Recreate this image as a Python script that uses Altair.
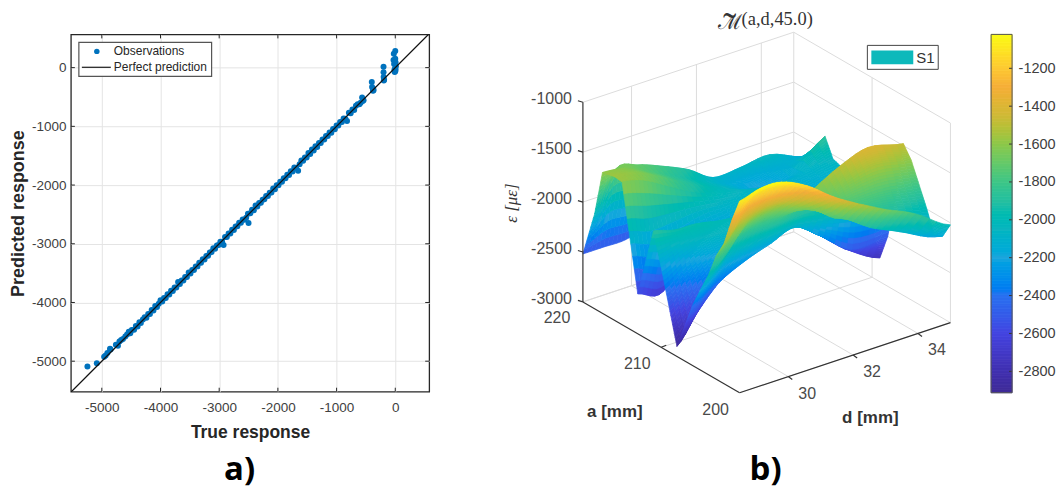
import altair as alt
import numpy as np
import pandas as pd

# ---------- panel a) values ----------
true_vals = [-5245,-5085,-4960,-4935,-4905,-4860,-4850,-4760,-4725,-4700,-4670,-4640,-4600,-4570,-4540,-4515,-4490,-4450,-4420,-4390,
 -4360,-4335,-4300,-4270,-4240,-4210,-4180,-4150,-4120,-4090,-4060,-4030,-4000,-3970,-3940,-3910,-3880,-3850,-3820,-3790,
 -3760,-3730,-3700,-3670,-3640,-3610,-3580,-3550,-3520,-3490,-3460,-3430,-3400,-3370,-3340,-3310,-3280,-3250,-3220,-3190,
 -3160,-3130,-3100,-3070,-3040,-3010,-2980,-2950,-2925,-2900,-2870,-2840,-2810,-2780,-2750,-2720,-2690,-2660,-2630,-2600,
 -2570,-2540,-2510,-2500,-2470,-2440,-2410,-2380,-2350,-2320,-2290,-2260,-2230,-2200,-2170,-2140,-2110,-2080,-2050,-2020,
 -1990,-1960,-1930,-1900,-1870,-1840,-1810,-1780,-1750,-1720,-1690,-1655,-1630,-1600,-1570,-1540,-1510,-1480,-1450,-1420,
 -1390,-1360,-1330,-1300,-1270,-1240,-1210,-1180,-1150,-1120,-1090,-1060,-1030,-1000,-970,-940,-910,-880,-850,-822,
 -790,-760,-730,-700,-670,-640,-610,-590,-565,-555,-540,-400,-395,-380,-375,-370,-200,-200,-198,-195,-190,-30,-25,-20,-15,-10,-5,0,0,0,5,5,10]
pred_vals = [-5090,-5033,-4925,-4905,-4860,-4790,-4800,-4720,-4735,-4665,-4640,-4620,-4580,-4545,-4500,-4525,-4470,-4465,-4400,-4410,
 -4335,-4350,-4290,-4250,-4260,-4195,-4195,-4130,-4135,-4060,-4075,-4020,-3960,-3985,-3925,-3925,-3860,-3865,-3800,-3805,
 -3745,-3745,-3650,-3685,-3625,-3625,-3565,-3565,-3490,-3505,-3445,-3445,-3385,-3385,-3325,-3325,-3265,-3270,-3210,-3205,
 -3150,-3140,-3075,-3085,-3030,-3020,-2965,-2965,-3020,-2885,-2885,-2825,-2825,-2760,-2765,-2705,-2700,-2640,-2640,-2585,
 -2590,-2555,-2490,-2648,-2480,-2420,-2430,-2350,-2365,-2305,-2300,-2250,-2240,-2185,-2185,-2130,-2125,-2060,-2070,-2005,
 -2005,-1945,-1945,-1885,-1885,-1825,-1830,-1765,-1770,-1700,-1710,-1758,-1645,-1580,-1585,-1530,-1530,-1455,-1470,-1395,
 -1410,-1340,-1350,-1285,-1285,-1225,-1225,-1165,-1165,-1105,-1110,-1045,-1050,-985,-985,-925,-925,-865,-870,-908,
 -770,-775,-715,-720,-650,-625,-625,-600,-510,-570,-555,-245,-330,-395,-360,-385,17,-80,-160,-220,-205,130,235,60,-40,-75,-20,282,150,-60,90,-30,25]

x_ticks = [-5000,-4000,-3000,-2000,-1000,0]
y_ticks = [-5000,-4000,-3000,-2000,-1000,0]
x_domain = [-5527,578]
y_domain = [-5520,566]
diag = [-5600,700]

# ---------- panel b) values ----------
a_vals = [200,201,202,203,204,205,206,207,208,209,210,211,213,215,216,217.5,218.5,220]
d_vals = [28.5,29.15,29.8,30.6,31.4,32.15,33.0,33.9,35.0]
z_rows = [
 [-1080,-1020,-1030,-1155,-1350,-1500,-1650,-1790,-2020],
 [-1320,-1150,-1120,-1220,-1420,-1600,-1780,-1930,-2180],
 [-1600,-1350,-1280,-1330,-1500,-1720,-1920,-2060,-2230],
 [-1770,-1550,-1420,-1430,-1580,-1780,-1850,-1900,-2000],
 [-2010,-1800,-1580,-1530,-1650,-1750,-1750,-1750,-1800],
 [-2200,-1980,-1730,-1650,-1720,-1720,-1600,-1530,-1600],
 [-2400,-2180,-1900,-1800,-1800,-1650,-1500,-1400,-1480],
 [-2650,-2400,-2150,-2030,-1980,-1950,-2000,-1950,-2050],
 [-2900,-2620,-2400,-2270,-2180,-2100,-2290,-2510,-2500],
 [-2550,-2350,-2200,-2150,-2130,-2120,-2300,-2550,-2760],
 [-2200,-2100,-2050,-2050,-2080,-2100,-2250,-2400,-2500],
 [-1880,-1940,-1950,-2000,-2020,-2050,-2200,-2300,-2300],
 [-2600,-2680,-2500,-2250,-2150,-2100,-2150,-2150,-2100],
 [-1570,-1630,-1750,-1900,-2000,-2050,-2100,-2100,-2040],
 [-1560,-1600,-1700,-1850,-1980,-2080,-2200,-2150,-1860],
 [-1590,-1620,-1720,-1850,-1980,-2100,-2180,-2120,-2100],
 [-2050,-1670,-1700,-1800,-1920,-2080,-2070,-2040,-2180],
 [-2520,-2520,-2520,-2450,-2400,-2350,-2300,-2300,-2350],
]
z_ticks = [-1000,-1500,-2000,-2500,-3000]
d_ticks = [30,32,34]
a_ticks = [200,210,220]
cbar_ticks = [-1200,-1400,-1600,-1800,-2000,-2200,-2400,-2600,-2800]
cbar_domain = [-2913,-1021]
cmap_pos = [-2913,-2800,-2600,-2400,-2200,-2050,-1900,-1750,-1600,-1450,-1300,-1200,-1021]
cmap_col = ["#3e2a95","#4030b0","#4343e0","#2a70f0","#1fa5de","#0db5c0","#25bfa0","#50c878","#8cc84a","#cfb936","#f5ae38","#fdc932","#f9fb15"]

FONT = "Liberation Sans"
TICK = "#404040"
OX, OY = 440.0, 35.0   # page origin of panel b)
HYPHEN = "replace(datum.label, '\u2212', '-')"


def proj(a, d, z):
    x = 739 + 32.5 * (d - 28.5) - 7.85 * (a - 200)
    y = 394 - 10.8 * (d - 28.5) - 4.55 * (a - 200) - 0.1 * (z + 3000)
    return [round(x - OX, 2), round(y - OY, 2)]


color_scale = alt.Scale(domain=cmap_pos, range=cmap_col, clamp=True)
geo = alt.Projection(type="identity", scale=1, translate=[0, 0])

# ---------- panel a) ----------
W, H = 359, 358
xs = alt.Scale(domain=x_domain, nice=False, zero=False)
ys = alt.Scale(domain=y_domain, nice=False, zero=False)
obs = pd.DataFrame({"t": true_vals, "p": pred_vals})
base_axis = dict(values=x_ticks, grid=True, gridColor="#e4e4e4", gridWidth=1, ticks=False, domain=False,
                 labelFont=FONT, labelFontSize=13.5, labelColor=TICK, labelExpr=HYPHEN,
                 titleFont=FONT, titleFontWeight="bold", titleColor="#262626", format="d")
grid = alt.Chart(pd.DataFrame({"t": x_ticks, "p": y_ticks})).mark_point(opacity=0).encode(
    x=alt.X("t:Q", scale=xs, axis=alt.Axis(title="True response", labelPadding=9, titlePadding=9, titleFontSize=17.5, **base_axis)),
    y=alt.Y("p:Q", scale=ys, axis=alt.Axis(title="Predicted response", labelPadding=5, titlePadding=4, titleFontSize=18, **base_axis)),
)
pts = alt.Chart(obs).mark_circle(size=36, color="#0072BD", opacity=1).encode(
    x=alt.X("t:Q", scale=xs), y=alt.Y("p:Q", scale=ys))
line = alt.Chart(pd.DataFrame({"t": diag, "p": diag})).mark_line(color="#111111", strokeWidth=1.3, clip=True).encode(
    x=alt.X("t:Q", scale=xs), y=alt.Y("p:Q", scale=ys))
tk = pd.DataFrame({"v": x_ticks})
tick_col = "#262626"
tx1 = alt.Chart(tk).mark_rule(color=tick_col).encode(x=alt.X("v:Q", scale=xs), y=alt.value(H), y2=alt.value(H - 4))
tx2 = alt.Chart(tk).mark_rule(color=tick_col).encode(x=alt.X("v:Q", scale=xs), y=alt.value(0), y2=alt.value(4))
ty1 = alt.Chart(tk).mark_rule(color=tick_col).encode(y=alt.Y("v:Q", scale=ys), x=alt.value(0), x2=alt.value(4))
ty2 = alt.Chart(tk).mark_rule(color=tick_col).encode(y=alt.Y("v:Q", scale=ys), x=alt.value(W), x2=alt.value(W - 4))
lg_box = alt.Chart(pd.DataFrame({"k": [0]})).mark_rect(fill="white", stroke="#555555", strokeWidth=1.2).encode(
    x=alt.value(8), x2=alt.value(141), y=alt.value(8), y2=alt.value(42))
lg_pt = alt.Chart(pd.DataFrame({"k": [0]})).mark_circle(size=30, color="#0072BD", opacity=1).encode(
    x=alt.value(26), y=alt.value(17))
lg_ln = alt.Chart(pd.DataFrame({"k": [0]})).mark_rule(color="#333333", strokeWidth=1.4).encode(
    x=alt.value(11), x2=alt.value(40), y=alt.value(33))
lg_t1 = alt.Chart(pd.DataFrame({"k": ["Observations"]})).mark_text(align="left", font=FONT, fontSize=12, color="#262626").encode(
    x=alt.value(43), y=alt.value(17), text="k:N")
lg_t2 = alt.Chart(pd.DataFrame({"k": ["Perfect prediction"]})).mark_text(align="left", font=FONT, fontSize=12, color="#262626").encode(
    x=alt.value(43), y=alt.value(33), text="k:N")
lab_a = alt.Chart(pd.DataFrame({"k": ["a)"]})).mark_text(font="Open Sans", fontWeight="bold", fontSize=33, color="black", align="center", baseline="alphabetic").encode(
    x=alt.value(169), y=alt.value(446), text="k:N")
panel_a = alt.layer(grid, pts, line, tx1, tx2, ty1, ty2, lg_box, lg_ln, lg_pt, lg_t1, lg_t2, lab_a).properties(
    width=W, height=H, view=alt.ViewConfig(stroke="#262626", strokeWidth=1.3))


# ---------- panel b) ----------
def linestr(p, q):
    return {"type": "Feature", "geometry": {"type": "LineString", "coordinates": [p, q]}, "properties": {}}


A0, A1 = 200, 220
D0, D1 = d_vals[0], d_vals[-1]
Zlo, Zhi = -3000, -1000
grid_lines = []
for z in z_ticks:
    grid_lines.append(linestr(proj(A1, D0, z), proj(A1, D1, z)))
    grid_lines.append(linestr(proj(A1, D1, z), proj(A0, D1, z)))
for d in d_ticks:
    grid_lines.append(linestr(proj(A1, d, Zlo), proj(A1, d, Zhi)))
    grid_lines.append(linestr(proj(A0, d, Zlo), proj(A1, d, Zlo)))
for a in a_ticks:
    grid_lines.append(linestr(proj(a, D1, Zlo), proj(a, D1, Zhi)))
    grid_lines.append(linestr(proj(a, D0, Zlo), proj(a, D1, Zlo)))

axis_lines = [linestr(proj(A1, D0, Zlo), proj(A1, D0, Zhi)),
              linestr(proj(A1, D0, Zlo), proj(A0, D0, Zlo)),
              linestr(proj(A0, D0, Zlo), proj(A0, D1, Zlo))]
for z in z_ticks:
    p = proj(A1, D0, z)
    axis_lines.append(linestr(p, [p[0] - 5, p[1] - 1.5]))
for a in [210]:
    p = proj(a, D0, Zlo)
    axis_lines.append(linestr(p, [p[0] + 5, p[1] - 2]))
for d in d_ticks:
    p = proj(A0, d, Zlo)
    axis_lines.append(linestr(p, [p[0] + 4, p[1] + 3]))


def cr(p0, p1, p2, p3, t):
    return 0.5 * (2 * p1 + (p2 - p0) * t + (2 * p0 - 5 * p1 + 4 * p2 - p3) * t * t + (3 * p1 - p0 - 3 * p2 + p3) * t ** 3)


# surface shading: rounded along d, straight across a (like MATLAB's "shading interp")
SUB_A, SUB_D = 9, 5
z_arr = np.array(z_rows, dtype=float)
nd = len(d_vals)
patches = []


def z_at(i, j, t):
    r = z_arr[i]
    return cr(r[max(j - 1, 0)], r[j], r[j + 1], r[min(j + 2, nd - 1)], t)


for i in range(len(a_vals) - 2, -1, -1):
    for j in range(nd - 2, -1, -1):
        a0, a1 = a_vals[i], a_vals[i + 1]
        d0, d1 = d_vals[j], d_vals[j + 1]
        for u in range(SUB_A - 1, -1, -1):
            for v in range(SUB_D - 1, -1, -1):
                corners = [(u, v), (u + 1, v), (u + 1, v + 1), (u, v + 1)]
                ring, zs = [], []
                for (p, q) in corners:
                    s, t = p / SUB_A, q / SUB_D
                    z = z_at(i, j, t) * (1 - s) + z_at(i + 1, j, t) * s
                    ring.append(proj(a0 + (a1 - a0) * s, d0 + (d1 - d0) * t, z))
                    zs.append(z)
                ring.append(ring[0])
                patches.append({"type": "Feature", "geometry": {"type": "Polygon", "coordinates": [ring]},
                                "properties": {"z": round(float(np.mean(zs)), 1)}})

grid_layer = alt.Chart(alt.Data(values=grid_lines)).mark_geoshape(filled=False, stroke="#dcdcdc", strokeWidth=1, clip=False).project(**geo.to_dict())
surf_layer = alt.Chart(alt.Data(values=patches)).mark_geoshape(strokeWidth=0.7, clip=False).encode(
    fill=alt.Color("properties.z:Q", scale=color_scale, legend=None),
    stroke=alt.Color("properties.z:Q", scale=color_scale, legend=None),
).project(**geo.to_dict())
axis_layer = alt.Chart(alt.Data(values=axis_lines)).mark_geoshape(filled=False, stroke="#333333", strokeWidth=1.2, clip=False).project(**geo.to_dict())


def label_layer(rows, **kw):
    return alt.Chart(pd.DataFrame(rows)).mark_text(clip=False, **kw).encode(
        longitude="x:Q", latitude="y:Q", text="t:N").project(**geo.to_dict())


z_lab = []
for z in z_ticks:
    p = proj(A1, D0, z)
    z_lab.append({"x": p[0] - 11, "y": p[1] - 3, "t": str(z)})
a_lab = [{"x": proj(a, D0, Zlo)[0] + dx - 0, "y": proj(a, D0, Zlo)[1] + dy, "t": str(a)}
         for a, dx, dy in [(220, -26, 16), (210, -24, 17), (200, -24, 17)]]
d_lab = [{"x": proj(A0, d, Zlo)[0] + 19, "y": proj(A0, d, Zlo)[1] + 17, "t": str(d)} for d in d_ticks]
tick_style = dict(font=FONT, fontSize=16, color="#4a4a4a")
lay_z = label_layer(z_lab, align="right", baseline="middle", **tick_style)
lay_a = label_layer(a_lab, align="center", baseline="middle", **tick_style)
lay_d = label_layer(d_lab, align="center", baseline="middle", **tick_style)
lay_ax = label_layer([{"x": 614 - OX, "y": 413 - OY, "t": "a [mm]"}, {"x": 870 - OX, "y": 419 - OY, "t": "d [mm]"}],
                     align="center", baseline="middle", font=FONT, fontSize=17, fontWeight="bold", color="#333333")
lay_m = label_layer([{"x": 717 - OX, "y": 24 - OY, "t": "ℳ"}],
                    align="left", baseline="middle", font="DejaVu Serif", fontSize=21, color="#333333")
lay_tilde = label_layer([{"x": 729 - OX, "y": 9 - OY, "t": "˜"}],
                        align="center", baseline="top", font="Liberation Serif", fontSize=40, color="#333333")
lay_title = label_layer([{"x": 741 - OX, "y": 20 - OY, "t": "(a,d,45.0)"}],
                        align="left", baseline="middle", font="Liberation Serif", fontSize=18.5, color="#333333")
lay_eps = label_layer([{"x": 511 - OX, "y": 204 - OY, "t": "ε [με]"}],
                      align="center", baseline="middle", font="Liberation Serif", fontStyle="italic", fontSize=17, angle=270, color="#333333")
lay_s1 = label_layer([{"x": 916 - OX, "y": 59 - OY, "t": "S1"}],
                     align="left", baseline="middle", font=FONT, fontSize=15, color="#333333")
lay_b = label_layer([{"x": 765 - OX, "y": 481 - OY, "t": "b)"}],
                    align="center", baseline="alphabetic", font="Open Sans", fontWeight="bold", fontSize=33, color="black")

PW = 540
leg_box = alt.Chart(pd.DataFrame({"k": [0]})).mark_rect(fill="white", stroke="#444444", strokeWidth=1).encode(
    x=alt.value(867 - OX), x2=alt.value(938 - OX), y=alt.value(46 - OY), y2=alt.value(70 - OY))
leg_patch = alt.Chart(pd.DataFrame({"k": [0]})).mark_rect(fill="#0cb9bb").encode(
    x=alt.value(871 - OX), x2=alt.value(913 - OX), y=alt.value(51 - OY), y2=alt.value(65 - OY))

panel_b = alt.layer(grid_layer, surf_layer, axis_layer, lay_z, lay_a, lay_d, lay_ax, lay_m, lay_tilde, lay_title, lay_eps,
                    leg_box, leg_patch, lay_s1, lay_b).properties(width=PW, height=H, view=alt.ViewConfig(stroke=None))

# ---------- colour bar ----------
cb_levels = [round(v, 1) for v in np.linspace(cbar_domain[0], cbar_domain[1], 129)]
cb_df = pd.DataFrame({"lo": cb_levels[:-1], "hi": cb_levels[1:]})
cb_df["mid"] = (cb_df.lo + cb_df.hi) / 2
cs = alt.Scale(domain=cbar_domain, nice=False, zero=False)
cb_rect = alt.Chart(cb_df).mark_rect(strokeWidth=0.8).encode(
    y=alt.Y("lo:Q", scale=cs, axis=alt.Axis(orient="right", values=cbar_ticks, title=None, ticks=False, domain=False, grid=False,
                                            labelFont=FONT, labelFontSize=14.5, labelColor=TICK, labelPadding=6, format="d", labelExpr=HYPHEN)),
    y2="hi:Q",
    x=alt.value(0), x2=alt.value(21),
    fill=alt.Color("mid:Q", scale=color_scale, legend=None),
    stroke=alt.Color("mid:Q", scale=color_scale, legend=None),
)
cb_ticks = alt.Chart(pd.DataFrame({"v": cbar_ticks})).mark_rule(color="#333333").encode(
    y=alt.Y("v:Q", scale=cs), x=alt.value(18), x2=alt.value(21))
cb_frame = alt.Chart(pd.DataFrame({"k": [0]})).mark_rect(fill=None, stroke="#555555", strokeWidth=1).encode(
    x=alt.value(0), x2=alt.value(21), y=alt.value(0), y2=alt.value(359))
panel_c = alt.layer(cb_rect, cb_ticks, cb_frame).properties(width=21, height=359, view=alt.ViewConfig(stroke=None))

chart = alt.hconcat(panel_a, panel_b, panel_c, spacing=10, padding={"left": 0, "top": 0, "right": 0, "bottom": 0}
                    ).resolve_scale(color="independent", x="independent", y="independent"
                    ).configure_view(continuousWidth=300)

chart.save("out.html", embed_options={"renderer": "svg", "actions": False})
